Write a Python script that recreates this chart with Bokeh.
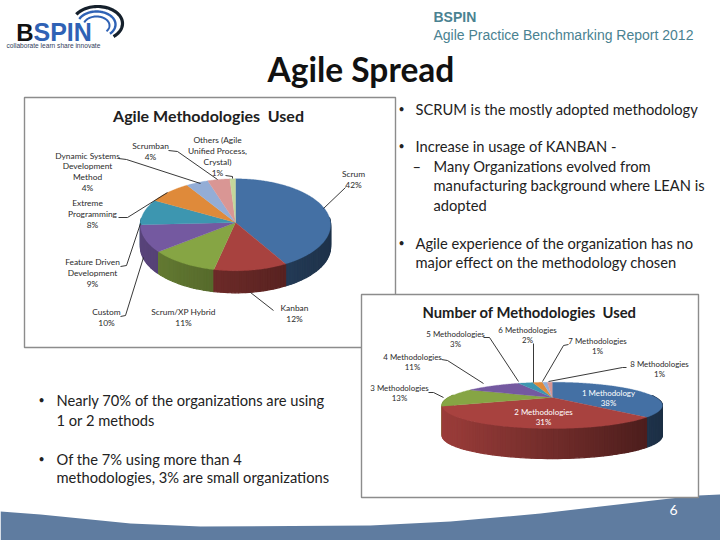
import numpy as np
from bokeh.plotting import figure
from bokeh.models import Range1d
from bokeh.core.properties import value
from bokeh.embed import file_html
from bokeh.resources import INLINE

# ---- data ----
agile_names = ["Scrum", "Kanban", "Scrum/XP Hybrid", "Custom", "Feature Driven Development",
               "Extreme Programming", "Dynamic Systems Development Method", "Scrumban",
               "Others (Agile Unified Process, Crystal)"]
agile_pct = [42, 12, 11, 10, 9, 8, 4, 4, 1]
count_names = ["1 Methodology", "2 Methodologies", "3 Methodologies", "4 Methodologies",
               "5 Methodologies", "6 Methodologies", "7 Methodologies", "8 Methodologies"]
count_pct = [38, 31, 13, 11, 3, 2, 1, 1]

# ---- style ----
slice_colors = ["#4470a4", "#a8423f", "#86a544", "#7459a0", "#3d96b0", "#df8a3a",
                "#93add6", "#d99694", "#c3d69b"]
BODY = value("Lato")
TXT = "#222222"
W, H = 720, 540

p = figure(width=W, height=H, x_range=Range1d(0, 720), y_range=Range1d(540, 0),
           toolbar_location=None, output_backend="svg", min_border=0,
           background_fill_color="white", border_fill_color="white", outline_line_color=None)
p.axis.visible = False
p.grid.visible = False


def tx(x, y, s, size, color=TXT, align="left", bold=False, font=BODY):
    p.text([x], [y - 1.3], text=[s], text_font=font, text_font_size=f"{size}px", text_color=color,
           text_align=align, text_baseline="middle",
           text_font_style="bold" if bold else "normal")


def shade(c, f):
    r, g, b = int(c[1:3], 16), int(c[3:5], 16), int(c[5:7], 16)
    return "#%02x%02x%02x" % (int(r * f), int(g * f), int(b * f))


def pie3d(vals, ax, ay, R, k, persp, depth, f_left, f_right):
    """Perspective 3-D pie; apex (ax, ay), slices from the values."""
    vals = np.asarray(vals, float)
    edges = np.cumsum(np.r_[0, vals]) / vals.sum() * 2 * np.pi

    def rim(th):
        u, v = np.sin(th), -np.cos(th)
        w = 1 - persp * v
        return ax + R * u / w, ay + k * v / w, v

    xmin, xmax = ax - R * 1.07, ax + R * 1.07
    sx, sy, sc, order = [], [], [], []
    tx_, ty_, tc = [], [], []
    for i, (a, b) in enumerate(zip(edges[:-1], edges[1:])):
        col = slice_colors[i]
        th = np.linspace(a, b, max(3, int((b - a) * 30)))
        x, y, v = rim(th)
        fine = np.linspace(a, b, max(3, int((b - a) * 80)))
        xf, yf, _ = rim(fine)
        tx_.append(np.r_[ax, xf].tolist())
        ty_.append(np.r_[ay, yf].tolist())
        tc.append(col)
        for j in range(len(th) - 1):
            if v[j] < -0.1 and v[j + 1] < -0.1:
                continue
            t = (0.5 * (x[j] + x[j + 1]) - xmin) / (xmax - xmin)
            f = f_left + (f_right - f_left) * t
            sx.append([x[j], x[j + 1], x[j + 1], x[j]])
            sy.append([y[j], y[j + 1], y[j + 1] + depth, y[j] + depth])
            sc.append(shade(col, f))
            order.append(y[j])
    idx = np.argsort(order)
    p.patches([sx[i] for i in idx], [sy[i] for i in idx],
              fill_color=[sc[i] for i in idx], line_color=[sc[i] for i in idx], line_width=1.2)
    p.patches(tx_, ty_, fill_color=tc, line_color=tc, line_width=0.3)


# ---- bottom band ----
band_x = [0, 40, 100, 130, 200, 370, 450, 540, 600, 670, 698, 720, 720, 0]
band_y = [511, 514, 520, 523, 526, 525, 521, 513, 506, 498, 495, 494, 540, 540]
p.patch(band_x, band_y, fill_color="#5f7ca0", line_color=None)

# ---- logo ----
for cx, cy, rx, ry, t0, t1, col, lw in [
    (97, 23, 25, 17, 212, 410, "#15202c", 3.2),
    (96, 24, 19, 13, 205, 405, "#2f62b5", 2.4),
    (96, 25, 13, 9, 200, 400, "#2f62b5", 2.0),
]:
    t = np.radians(np.linspace(t0, t1, 50))
    p.line(cx + rx * np.cos(t), cy + ry * np.sin(t), line_color=col, line_width=lw)
tx(33, 33, "B", 24, color="#111111", bold=True, font=value("Liberation Sans"), align="right")
tx(33, 33, "SPIN", 25, color="#2f62b5", bold=True, font=value("Liberation Sans"))
tx(6, 46, "collaborate learn share innovate", 6.6, color="#33415c", font=value("Liberation Sans"))

# ---- header ----
tx(433, 18, "BSPIN", 14, color="#4a8291", bold=True, font=value("Liberation Sans"))
tx(433, 36, "Agile Practice Benchmarking Report 2012", 14, color="#4a8291", font=value("Liberation Sans"))
tx(267, 70, "Agile Spread", 33.5, color="#111111", bold=True)

# ---- chart boxes ----
p.quad(left=[24], right=[395], top=[97], bottom=[347], fill_color="white", line_color="#8c8c8c", line_width=1.4)

pie3d(agile_pct, 235, 222, 95, 45.9, 0.05, 22, 0.78, 0.44)
p.multi_line(
    [[345, 323], [273, 250], [120, 125, 143], [120, 126, 140], [118, 127, 167],
     [118, 126, 200], [168, 177, 217], [225, 232, 232]],
    [[187, 208], [310, 292], [316, 315, 257], [266, 265, 223], [217, 217, 192],
     [158, 159, 183], [150, 151, 179], [175, 176, 178]],
    line_color="#222222", line_width=0.9)

tx(208, 116, "Agile Methodologies\u00a0\u00a0Used", 16, color="#202020", align="center", bold=True)
L1 = 8.4
lab1 = [
    (353, 175, "Scrum", agile_pct[0]), (294, 309, "Kanban", agile_pct[1]),
    (183, 313, "Scrum/XP Hybrid", agile_pct[2]), (106, 313, "Custom", agile_pct[3]),
    (92, 263, "Feature Driven", None), (92, 274, "Development", agile_pct[4]),
    (87, 204, "Extreme", None), (92, 215, "Programming", agile_pct[5]),
    (87, 157, "Dynamic Systems", None), (87, 167, "Development", None),
    (87, 178, "Method", agile_pct[6]), (150, 147, "Scrumban", agile_pct[7]),
    (217, 141, "Others (Agile", None), (217, 152, "Unified Process,", None),
    (217, 163, "Crystal)", agile_pct[8]),
]
for x, y, s, pct in lab1:
    tx(x, y, s, L1, color="#2a2a2a", align="center")
    if pct is not None:
        tx(x, y + 10.7, f"{pct}%", L1, color="#2a2a2a", align="center")

p.quad(left=[361], right=[698], top=[294], bottom=[497], fill_color="white", line_color="#8c8c8c", line_width=1.4)
pie3d(count_pct, 551.7, 397, 103.6, 20.5, 0.34, 30, 0.93, 0.42)
p.multi_line(
    [[626, 622, 548], [568, 563, 542], [533, 533], [483, 489, 518], [441, 447, 483], [428, 433, 443]],
    [[367, 367, 381], [344, 345, 381], [343, 382], [337, 337, 381], [359, 360, 383], [392, 392, 397]],
    line_color="#222222", line_width=0.9)
tx(529, 313, "Number of Methodologies\u00a0\u00a0Used", 14.8, color="#202020", align="center", bold=True)
lab2 = [
    (608, 394, 0, "white"), (543, 413, 1, "white"), (399, 389, 2, "#2a2a2a"), (412, 358, 3, "#2a2a2a"),
    (455, 335, 4, "#2a2a2a"), (527, 331, 5, "#2a2a2a"), (597, 342, 6, "#2a2a2a"), (659, 365, 7, "#2a2a2a"),
]
for x, y, i, c in lab2:
    tx(x, y, count_names[i], 7.9, color=c, align="center")
    tx(x, y + 10, f"{count_pct[i]}%", 7.9, color=c, align="center")

# ---- bullets ----
B = 14.7
for y, s in [(110, "SCRUM is the mostly adopted methodology"), (147, "Increase in usage of KANBAN -"),
             (244, "Agile experience of the organization has no"), (263, "major effect on the methodology chosen")]:
    tx(415, y, s, B)
for y in (110, 147, 244):
    tx(398, y, "•", 10.5)
tx(412, 167, "–", B)
for y, s in [(167, "Many Organizations evolved from"), (186, "manufacturing background where LEAN is"), (206, "adopted")]:
    tx(433, y, s, B)
for y, s in [(401, "Nearly 70% of the organizations are using"), (421, "1 or 2 methods"),
             (460, "Of the 7% using more than 4"), (478, "methodologies, 3% are small organizations")]:
    tx(56, y, s, B)
for y in (401, 460):
    tx(38, y, "•", 10.5)

tx(673, 511, "6", 14, color="white", align="center")

open("out.html", "w").write(file_html(p, INLINE))
